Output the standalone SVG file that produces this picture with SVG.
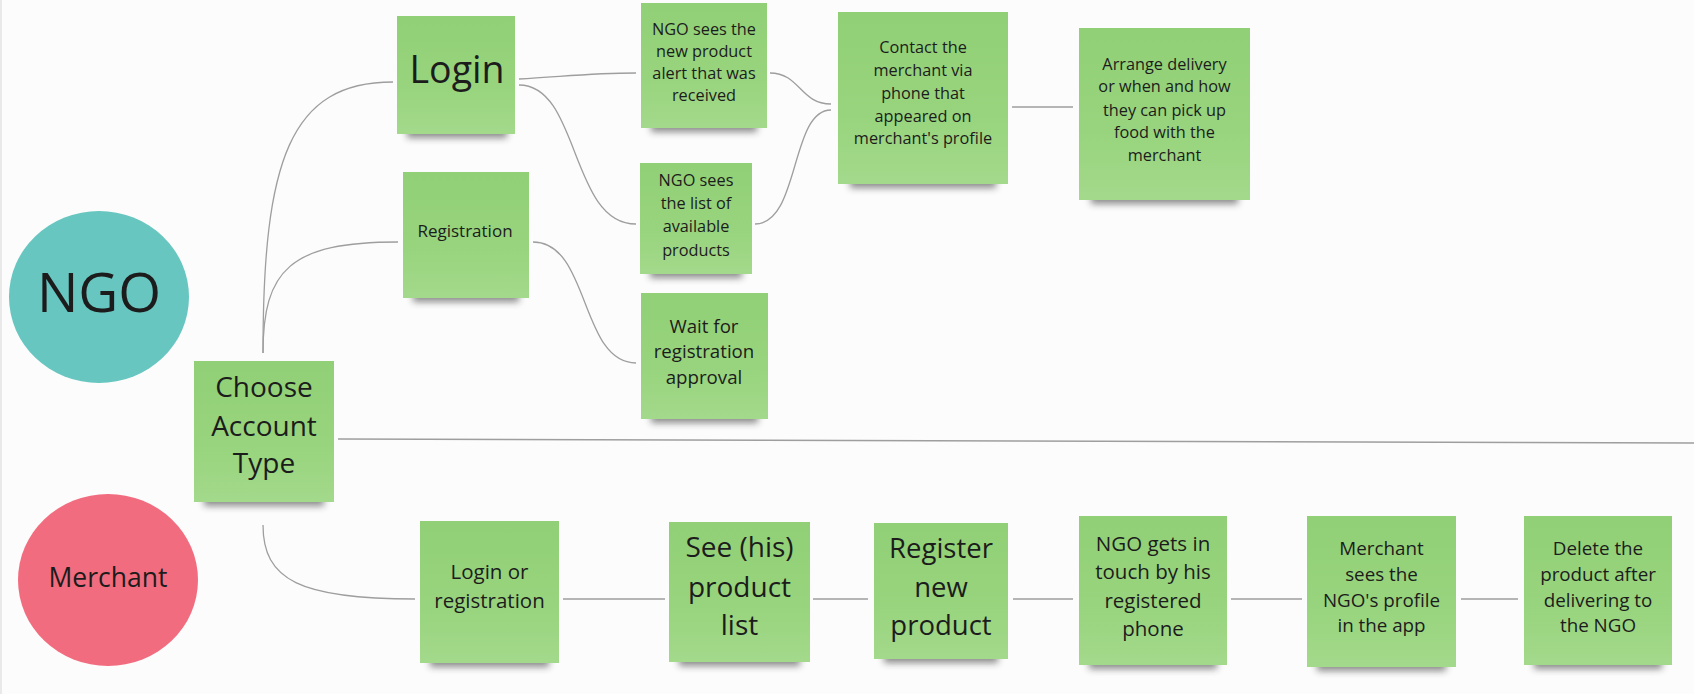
<svg xmlns="http://www.w3.org/2000/svg" width="1694" height="694" viewBox="0 0 1694 694">
<defs>
<linearGradient id="g" x1="0" y1="0" x2="0" y2="1">
<stop offset="0" stop-color="#91d076"/>
<stop offset="0.6" stop-color="#98d47d"/>
<stop offset="1" stop-color="#a3d98b"/>
</linearGradient>
<filter id="sh" x="-20%" y="-100%" width="140%" height="300%">
<feGaussianBlur stdDeviation="3.5"/>
</filter>
<style>
.n{fill:url(#g)}
.s{fill:#2e2e2e;opacity:.55;filter:url(#sh)}
.t{font-family:"Open Sans","Liberation Sans",sans-serif;fill:#1c1c1c;text-anchor:middle}
.c{fill:none;stroke:#9e9e9e;stroke-width:1.3}
</style>
</defs>
<rect x="0" y="0" width="1694" height="694" fill="#fcfcfc"/>
<line x1="1" y1="0" x2="1" y2="694" stroke="#e9e9e9" stroke-width="2"/>

<g id="connectors">
<path class="c" d="M263,353 C263,160 290,82 393,82"/>
<path class="c" d="M263,353 C263,270 290,242 398,242"/>
<path class="c" d="M519,79 C560,77 590,73 636,73"/>
<path class="c" d="M519,85 C580,85 570,224 636,224"/>
<path class="c" d="M770,73 C800,73 800,104 831,104"/>
<path class="c" d="M755,224 C800,224 790,110 831,110"/>
<path class="c" d="M1012,107 L1073,107"/>
<path class="c" d="M533,242 C590,242 580,363 636,363"/>
<path class="c" d="M338,439 L1694,443"/>
<path class="c" d="M263,525 C263,580 300,599 415,599"/>
<path class="c" d="M563,599 L665,599"/>
<path class="c" d="M813,599 L868,599"/>
<path class="c" d="M1013,599 L1073,599"/>
<path class="c" d="M1231,599 L1302,599"/>
<path class="c" d="M1461,599 L1518,599"/>
</g>

<g id="ngo">
<ellipse cx="99" cy="297" rx="90" ry="86" fill="#67c6c0"/>
<text class="t" x="99" y="312" font-size="55">NGO</text>
</g>

<g id="merchant">
<ellipse cx="108" cy="580" rx="90" ry="86" fill="#f26c7f"/>
<text class="t" x="108" y="587" font-size="26.5">Merchant</text>
</g>

<g id="login">
<rect class="s" x="407" y="124" width="100" height="14"/>
<rect class="n" x="397" y="16" width="118" height="118"/>
<text class="t" x="457" y="83" font-size="37.5">Login</text>
</g>

<g id="registration">
<rect class="s" x="413" y="288" width="106" height="14"/>
<rect class="n" x="403" y="172" width="126" height="126"/>
<text class="t" x="465" y="237" font-size="17">Registration</text>
</g>

<g id="ngo-sees-alert">
<rect class="s" x="651" y="118" width="106" height="14"/>
<rect class="n" x="641" y="3" width="126" height="125"/>
<text class="t" font-size="16.3"><tspan x="704" y="35">NGO sees the</tspan><tspan x="704" y="57">new product</tspan><tspan x="704" y="79">alert that was</tspan><tspan x="704" y="101">received</tspan></text>
</g>

<g id="ngo-sees-list">
<rect class="s" x="650" y="264" width="92" height="14"/>
<rect class="n" x="640" y="163" width="112" height="111"/>
<text class="t" font-size="16.3"><tspan x="696" y="186">NGO sees</tspan><tspan x="696" y="209">the list of</tspan><tspan x="696" y="232">available</tspan><tspan x="696" y="256">products</tspan></text>
</g>

<g id="wait-approval">
<rect class="s" x="651" y="409" width="107" height="14"/>
<rect class="n" x="641" y="293" width="127" height="126"/>
<text class="t" font-size="18.7"><tspan x="704" y="333">Wait for</tspan><tspan x="704" y="358">registration</tspan><tspan x="704" y="384">approval</tspan></text>
</g>

<g id="contact-merchant">
<rect class="s" x="850" y="174" width="146" height="14"/>
<rect class="n" x="838" y="12" width="170" height="172"/>
<text class="t" font-size="16.3"><tspan x="923" y="53">Contact the</tspan><tspan x="923" y="76">merchant via</tspan><tspan x="923" y="99">phone that</tspan><tspan x="923" y="122">appeared on</tspan><tspan x="923" y="144">merchant's profile</tspan></text>
</g>

<g id="arrange-delivery">
<rect class="s" x="1091" y="190" width="147" height="14"/>
<rect class="n" x="1079" y="28" width="171" height="172"/>
<text class="t" font-size="16.3"><tspan x="1164.5" y="70">Arrange delivery</tspan><tspan x="1164.5" y="92">or when and how</tspan><tspan x="1164.5" y="116">they can pick up</tspan><tspan x="1164.5" y="138">food with the</tspan><tspan x="1164.5" y="161">merchant</tspan></text>
</g>

<g id="choose-account">
<rect class="s" x="204" y="492" width="120" height="14"/>
<rect class="n" x="194" y="361" width="140" height="141"/>
<text class="t" font-size="28"><tspan x="264" y="397">Choose</tspan><tspan x="264" y="436">Account</tspan><tspan x="264" y="473">Type</tspan></text>
</g>

<g id="login-or-registration">
<rect class="s" x="430" y="653" width="119" height="14"/>
<rect class="n" x="420" y="521" width="139" height="142"/>
<text class="t" font-size="20.5"><tspan x="489.5" y="579">Login or</tspan><tspan x="489.5" y="608">registration</tspan></text>
</g>

<g id="see-product-list">
<rect class="s" x="679" y="652" width="121" height="14"/>
<rect class="n" x="669" y="522" width="141" height="140"/>
<text class="t" font-size="28"><tspan x="739.5" y="557">See (his)</tspan><tspan x="739.5" y="597">product</tspan><tspan x="739.5" y="635">list</tspan></text>
</g>

<g id="register-product">
<rect class="s" x="884" y="649" width="114" height="14"/>
<rect class="n" x="874" y="523" width="134" height="136"/>
<text class="t" font-size="27.5"><tspan x="941" y="558">Register</tspan><tspan x="941" y="597">new</tspan><tspan x="941" y="635">product</tspan></text>
</g>

<g id="ngo-gets-in-touch">
<rect class="s" x="1089" y="655" width="128" height="14"/>
<rect class="n" x="1079" y="516" width="148" height="149"/>
<text class="t" font-size="20.5"><tspan x="1153" y="551">NGO gets in</tspan><tspan x="1153" y="579">touch by his</tspan><tspan x="1153" y="608">registered</tspan><tspan x="1153" y="636">phone</tspan></text>
</g>

<g id="merchant-sees-profile">
<rect class="s" x="1317" y="657" width="129" height="14"/>
<rect class="n" x="1307" y="516" width="149" height="151"/>
<text class="t" font-size="18.8"><tspan x="1381.5" y="555">Merchant</tspan><tspan x="1381.5" y="581">sees the</tspan><tspan x="1381.5" y="607">NGO's profile</tspan><tspan x="1381.5" y="632">in the app</tspan></text>
</g>

<g id="delete-product">
<rect class="s" x="1534" y="655" width="128" height="14"/>
<rect class="n" x="1524" y="516" width="148" height="149"/>
<text class="t" font-size="18.8"><tspan x="1598" y="555">Delete the</tspan><tspan x="1598" y="581">product after</tspan><tspan x="1598" y="607">delivering to</tspan><tspan x="1598" y="632">the NGO</tspan></text>
</g>
</svg>
